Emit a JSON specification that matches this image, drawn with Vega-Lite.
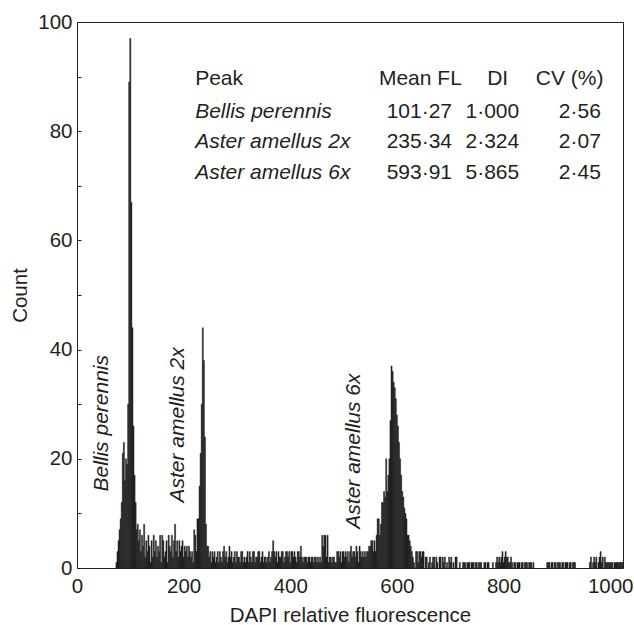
{
"$schema": "https://vega.github.io/schema/vega-lite/v6.json",
"width": 546, "height": 546,
"autosize": {"type": "none"},
"padding": {"left": 77, "top": 22, "right": 11, "bottom": 57},
"config": {"view": {"stroke": "#231f20", "strokeWidth": 1}, "font": "Liberation Sans",
 "axis": {"grid": false, "domain": false, "labelColor": "#231f20", "titleColor": "#231f20", "labelFontSize": 20.5, "titleFontSize": 20.5, "titleFontWeight": "normal", "tickColor": "#231f20"}},
"datasets": {
"hist": [
{"ch":72,"n":1},{"ch":74,"n":3},{"ch":76,"n":5},{"ch":78,"n":7},{"ch":80,"n":9},{"ch":82,"n":12},{"ch":84,"n":21},{"ch":86,"n":23},{"ch":88,"n":16},{"ch":90,"n":20},{"ch":92,"n":19},{"ch":94,"n":30},{"ch":96,"n":89},{"ch":98,"n":97},{"ch":100,"n":67},{"ch":102,"n":44},{"ch":104,"n":26},{"ch":106,"n":17},{"ch":108,"n":12},{"ch":110,"n":7},
{"ch":112,"n":8},{"ch":114,"n":5},{"ch":116,"n":7},{"ch":118,"n":3},{"ch":120,"n":6},{"ch":122,"n":4},{"ch":124,"n":8},{"ch":126,"n":2},{"ch":128,"n":5},{"ch":130,"n":3},{"ch":132,"n":6},{"ch":134,"n":4},{"ch":136,"n":1},{"ch":138,"n":5},{"ch":140,"n":2},{"ch":142,"n":6},{"ch":144,"n":3},{"ch":146,"n":5},{"ch":148,"n":2},{"ch":150,"n":4},{"ch":152,"n":3},{"ch":154,"n":6},{"ch":156,"n":1},{"ch":158,"n":6},{"ch":160,"n":5},{"ch":162,"n":2},{"ch":164,"n":3},{"ch":166,"n":5},{"ch":168,"n":1},{"ch":170,"n":6},{"ch":172,"n":4},{"ch":174,"n":3},{"ch":176,"n":6},{"ch":178,"n":2},{"ch":180,"n":5},{"ch":182,"n":8},{"ch":184,"n":3},{"ch":186,"n":5},{"ch":188,"n":2},{"ch":190,"n":5},{"ch":192,"n":3},{"ch":194,"n":4},{"ch":196,"n":5},{"ch":198,"n":2},{"ch":200,"n":4},{"ch":202,"n":3},{"ch":204,"n":4},{"ch":206,"n":2},{"ch":208,"n":4},{"ch":210,"n":3},{"ch":212,"n":2},{"ch":214,"n":3},{"ch":216,"n":1},{"ch":218,"n":7},{"ch":220,"n":6},{"ch":222,"n":3},{"ch":224,"n":9},
{"ch":226,"n":9},{"ch":228,"n":15},{"ch":230,"n":21},{"ch":232,"n":30},{"ch":234,"n":44},{"ch":236,"n":38},{"ch":238,"n":24},{"ch":240,"n":8},{"ch":242,"n":4},
{"ch":244,"n":4},{"ch":246,"n":2},{"ch":248,"n":3},{"ch":250,"n":1},{"ch":252,"n":3},{"ch":254,"n":2},{"ch":256,"n":3},{"ch":258,"n":1},{"ch":260,"n":2},{"ch":262,"n":3},{"ch":264,"n":1},{"ch":266,"n":3},{"ch":268,"n":2},{"ch":270,"n":1},{"ch":272,"n":3},{"ch":274,"n":4},{"ch":276,"n":2},{"ch":278,"n":3},{"ch":280,"n":1},{"ch":282,"n":2},{"ch":284,"n":4},{"ch":286,"n":2},{"ch":288,"n":3},{"ch":290,"n":1},{"ch":292,"n":2},{"ch":294,"n":3},{"ch":296,"n":1},{"ch":298,"n":3},{"ch":300,"n":2},{"ch":302,"n":2},{"ch":304,"n":1},{"ch":306,"n":3},{"ch":308,"n":3},{"ch":310,"n":1},{"ch":312,"n":2},{"ch":314,"n":1},{"ch":316,"n":2},{"ch":318,"n":3},{"ch":320,"n":1},{"ch":322,"n":3},{"ch":324,"n":2},{"ch":326,"n":1},{"ch":328,"n":3},{"ch":330,"n":3},{"ch":332,"n":1},{"ch":334,"n":2},{"ch":336,"n":2},{"ch":338,"n":3},{"ch":340,"n":3},{"ch":342,"n":1},{"ch":344,"n":2},{"ch":346,"n":3},{"ch":348,"n":1},{"ch":350,"n":2},{"ch":352,"n":2},{"ch":354,"n":1},{"ch":356,"n":2},{"ch":358,"n":3},{"ch":360,"n":1},{"ch":362,"n":2},{"ch":364,"n":3},{"ch":366,"n":5},{"ch":368,"n":3},{"ch":370,"n":2},{"ch":372,"n":3},{"ch":374,"n":1},{"ch":376,"n":3},{"ch":378,"n":2},{"ch":380,"n":2},{"ch":382,"n":3},{"ch":384,"n":3},{"ch":386,"n":1},{"ch":388,"n":2},{"ch":390,"n":3},{"ch":392,"n":3},{"ch":394,"n":2},{"ch":396,"n":3},{"ch":398,"n":1},{"ch":400,"n":3},{"ch":402,"n":3},{"ch":404,"n":2},{"ch":406,"n":3},{"ch":408,"n":2},{"ch":410,"n":1},{"ch":412,"n":3},{"ch":414,"n":3},{"ch":416,"n":2},{"ch":418,"n":4},{"ch":420,"n":2},{"ch":422,"n":1},{"ch":424,"n":2},{"ch":426,"n":2},{"ch":428,"n":2},{"ch":430,"n":1},{"ch":432,"n":2},{"ch":434,"n":2},{"ch":436,"n":1},{"ch":438,"n":2},{"ch":440,"n":2},{"ch":442,"n":1},{"ch":444,"n":2},{"ch":446,"n":2},{"ch":448,"n":1},{"ch":450,"n":2},{"ch":452,"n":1},{"ch":454,"n":2},{"ch":456,"n":1},{"ch":458,"n":6},{"ch":460,"n":4},{"ch":462,"n":6},{"ch":464,"n":6},{"ch":466,"n":2},{"ch":468,"n":6},{"ch":470,"n":1},{"ch":472,"n":2},{"ch":474,"n":2},{"ch":476,"n":1},{"ch":478,"n":2},{"ch":480,"n":2},{"ch":482,"n":1},{"ch":484,"n":1},{"ch":486,"n":3},{"ch":488,"n":3},{"ch":490,"n":2},{"ch":492,"n":3},{"ch":494,"n":1},{"ch":496,"n":3},{"ch":498,"n":3},{"ch":500,"n":2},{"ch":502,"n":3},{"ch":504,"n":2},{"ch":506,"n":3},{"ch":508,"n":1},{"ch":510,"n":3},{"ch":512,"n":4},{"ch":514,"n":2},{"ch":516,"n":3},{"ch":518,"n":3},{"ch":520,"n":2},{"ch":522,"n":4},{"ch":524,"n":3},{"ch":526,"n":1},{"ch":528,"n":4},{"ch":530,"n":3},
{"ch":532,"n":2},{"ch":534,"n":3},{"ch":536,"n":2},{"ch":538,"n":3},{"ch":540,"n":2},{"ch":542,"n":3},{"ch":544,"n":3},{"ch":546,"n":4},{"ch":548,"n":4},{"ch":550,"n":5},{"ch":552,"n":5},{"ch":554,"n":3},{"ch":556,"n":5},{"ch":558,"n":3},{"ch":560,"n":6},{"ch":562,"n":9},{"ch":564,"n":9},{"ch":566,"n":6},{"ch":568,"n":8},{"ch":570,"n":12},{"ch":572,"n":12},{"ch":574,"n":14},{"ch":576,"n":13},{"ch":578,"n":20},{"ch":580,"n":14},{"ch":582,"n":17},{"ch":584,"n":20},{"ch":586,"n":27},{"ch":588,"n":37},{"ch":590,"n":36},{"ch":592,"n":34},{"ch":594,"n":33},{"ch":596,"n":31},{"ch":598,"n":28},{"ch":600,"n":26},{"ch":602,"n":23},{"ch":604,"n":20},{"ch":606,"n":17},{"ch":608,"n":14},{"ch":610,"n":13},{"ch":612,"n":11},{"ch":614,"n":10},{"ch":616,"n":9},{"ch":618,"n":6},{"ch":620,"n":6},{"ch":622,"n":5},{"ch":624,"n":4},{"ch":626,"n":3},{"ch":628,"n":2},{"ch":630,"n":1},{"ch":634,"n":3},{"ch":636,"n":3},{"ch":638,"n":1},{"ch":640,"n":3},
{"ch":642,"n":3},{"ch":644,"n":2},{"ch":646,"n":3},{"ch":648,"n":3},{"ch":652,"n":2},{"ch":654,"n":2},{"ch":658,"n":1},{"ch":660,"n":2},{"ch":664,"n":1},{"ch":666,"n":2},{"ch":668,"n":2},{"ch":672,"n":2},{"ch":674,"n":1},{"ch":678,"n":2},{"ch":680,"n":2},{"ch":684,"n":2},{"ch":686,"n":1},{"ch":688,"n":2},{"ch":692,"n":1},{"ch":696,"n":2},{"ch":698,"n":1},{"ch":700,"n":2},{"ch":704,"n":1},{"ch":708,"n":2},{"ch":710,"n":2},{"ch":716,"n":1},{"ch":722,"n":1},{"ch":724,"n":1},{"ch":726,"n":1},{"ch":730,"n":1},{"ch":732,"n":1},{"ch":734,"n":1},{"ch":738,"n":1},{"ch":740,"n":1},{"ch":742,"n":1},{"ch":746,"n":1},{"ch":748,"n":1},{"ch":752,"n":1},{"ch":754,"n":1},{"ch":756,"n":1},{"ch":762,"n":1},{"ch":764,"n":1},{"ch":768,"n":1},{"ch":770,"n":1},{"ch":778,"n":1},{"ch":784,"n":1},{"ch":786,"n":2},{"ch":788,"n":1},{"ch":790,"n":2},{"ch":792,"n":1},{"ch":794,"n":2},{"ch":796,"n":3},{"ch":798,"n":1},{"ch":800,"n":2},{"ch":802,"n":3},{"ch":804,"n":2},{"ch":806,"n":2},{"ch":808,"n":1},{"ch":810,"n":1},{"ch":812,"n":2},{"ch":814,"n":1},{"ch":818,"n":1},{"ch":820,"n":1},{"ch":824,"n":1},{"ch":826,"n":1},{"ch":828,"n":1},{"ch":832,"n":1},{"ch":834,"n":1},{"ch":838,"n":1},{"ch":840,"n":1},{"ch":842,"n":1},{"ch":846,"n":1},{"ch":848,"n":1},{"ch":850,"n":1},{"ch":854,"n":1},{"ch":880,"n":1},{"ch":882,"n":1},{"ch":884,"n":1},{"ch":888,"n":1},{"ch":890,"n":1},{"ch":894,"n":1},{"ch":896,"n":1},{"ch":900,"n":1},{"ch":902,"n":1},{"ch":904,"n":1},{"ch":908,"n":1},{"ch":910,"n":1},{"ch":914,"n":1},{"ch":916,"n":1},{"ch":918,"n":1},{"ch":922,"n":1},{"ch":924,"n":1},{"ch":928,"n":1},{"ch":930,"n":1},{"ch":932,"n":1},{"ch":960,"n":1},{"ch":962,"n":2},{"ch":966,"n":1},{"ch":968,"n":2},{"ch":970,"n":1},{"ch":972,"n":2},{"ch":976,"n":1},{"ch":978,"n":2},{"ch":980,"n":3},{"ch":982,"n":1},{"ch":984,"n":2},{"ch":988,"n":2},{"ch":990,"n":1},{"ch":992,"n":1},{"ch":994,"n":1},{"ch":996,"n":1},{"ch":998,"n":1},{"ch":1000,"n":1},{"ch":1002,"n":1},{"ch":1006,"n":1},{"ch":1008,"n":1},{"ch":1010,"n":1},{"ch":1012,"n":1},{"ch":1014,"n":1},{"ch":1016,"n":1},{"ch":1018,"n":1},{"ch":1020,"n":1},{"ch":1022,"n":1}
],
"ann": [
{"kind":"head","x":221.6,"y":89.5,"t":"Peak"},
{"kind":"sp","x":221.6,"y":83.6,"t":"Bellis perennis"},
{"kind":"sp","x":221.6,"y":78.0,"t":"Aster amellus 2x"},
{"kind":"sp","x":221.6,"y":72.4,"t":"Aster amellus 6x"},
{"kind":"num","x":644,"y":89.5,"t":"Mean FL"},
{"kind":"num","x":789,"y":89.5,"t":"DI"},
{"kind":"num","x":924,"y":89.5,"t":"CV (%)"},
{"kind":"num","x":642,"y":83.6,"t":"101·27"},
{"kind":"num","x":779,"y":83.6,"t":"1·000"},
{"kind":"num","x":943,"y":83.6,"t":"2·56"},
{"kind":"num","x":642,"y":78.0,"t":"235·34"},
{"kind":"num","x":779,"y":78.0,"t":"2·324"},
{"kind":"num","x":943,"y":78.0,"t":"2·07"},
{"kind":"num","x":642,"y":72.4,"t":"593·91"},
{"kind":"num","x":779,"y":72.4,"t":"5·865"},
{"kind":"num","x":943,"y":72.4,"t":"2·45"},
{"kind":"rot","x":47,"y":14,"t":"Bellis perennis"},
{"kind":"rot","x":190,"y":12,"t":"Aster amellus 2x"},
{"kind":"rot","x":520,"y":7.2,"t":"Aster amellus 6x"}
]
},
"layer": [
{"data": {"name": "hist"},
 "mark": {"type": "bar", "color": "#231f20", "binSpacing": 0, "stroke": "#231f20", "strokeWidth": 0.5},
 "encoding": {
  "x": {"field": "ch", "type": "quantitative", "bin": {"binned": true, "step": 2},
        "scale": {"domain": [0, 1024], "nice": false, "zero": false},
        "axis": {"title": "DAPI relative fluorescence", "values": [0,200,400,600,800,1000], "format": "d", "ticks": false, "labelPadding": 8, "titlePadding": 9, "labelFlush": false}},
  "y": {"field": "n", "type": "quantitative", "scale": {"domain": [0, 100], "nice": false},
        "axis": {"title": "Count", "values": [0,10,20,30,40,50,60,70,80,90,100], "labelExpr": "datum.value % 20 === 0 ? datum.label : ''", "tickSize": -4, "labelPadding": 9, "titlePadding": 7, "labelFlush": false}}
 }},
{"data": {"name": "ann"}, "transform": [{"filter": "datum.kind === 'head'"}],
 "mark": {"type": "text", "align": "left", "baseline": "middle", "fontSize": 21, "color": "#231f20"},
 "encoding": {"x": {"field": "x", "type": "quantitative", "title": "DAPI relative fluorescence"}, "y": {"field": "y", "type": "quantitative", "title": "Count"}, "text": {"field": "t"}}},
{"data": {"name": "ann"}, "transform": [{"filter": "datum.kind === 'sp'"}],
 "mark": {"type": "text", "align": "left", "baseline": "middle", "fontSize": 21, "fontStyle": "italic", "color": "#231f20"},
 "encoding": {"x": {"field": "x", "type": "quantitative", "title": "DAPI relative fluorescence"}, "y": {"field": "y", "type": "quantitative", "title": "Count"}, "text": {"field": "t"}}},
{"data": {"name": "ann"}, "transform": [{"filter": "datum.kind === 'num'"}],
 "mark": {"type": "text", "align": "center", "baseline": "middle", "fontSize": 21, "color": "#231f20"},
 "encoding": {"x": {"field": "x", "type": "quantitative", "title": "DAPI relative fluorescence"}, "y": {"field": "y", "type": "quantitative", "title": "Count"}, "text": {"field": "t"}}},
{"data": {"name": "ann"}, "transform": [{"filter": "datum.kind === 'rot'"}],
 "mark": {"type": "text", "align": "left", "baseline": "middle", "angle": 270, "fontSize": 21, "fontStyle": "italic", "color": "#231f20"},
 "encoding": {"x": {"field": "x", "type": "quantitative", "title": "DAPI relative fluorescence"}, "y": {"field": "y", "type": "quantitative", "title": "Count"}, "text": {"field": "t"}}}
]
}
